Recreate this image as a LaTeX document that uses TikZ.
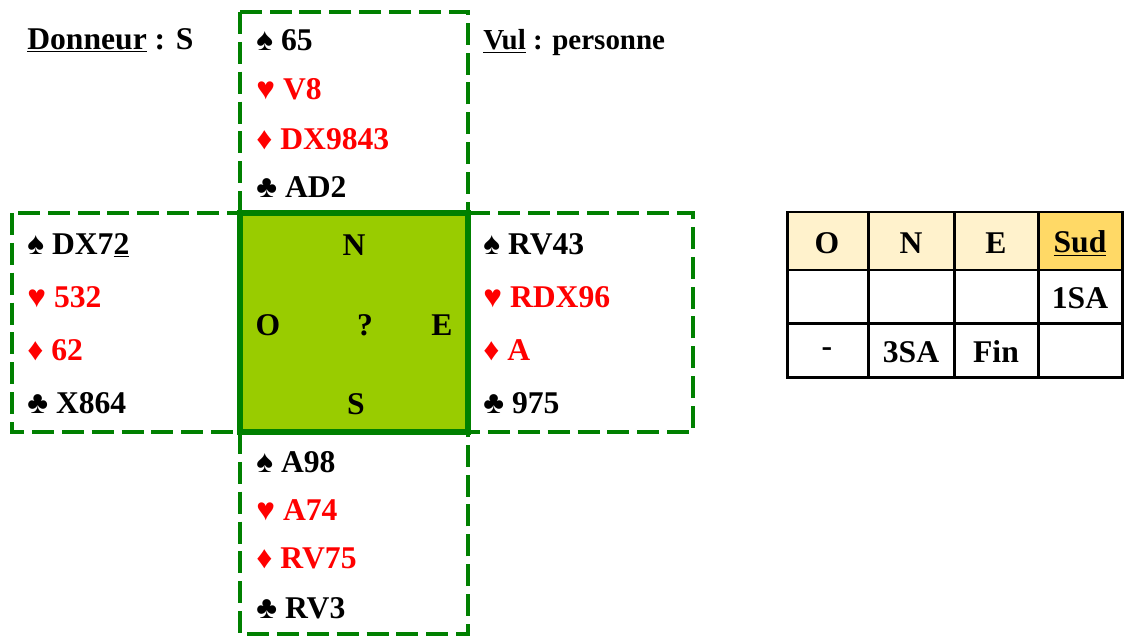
\documentclass[tikz,border=0pt]{standalone}
\usepackage{fontspec}
\setmainfont{Liberation Serif}
\definecolor{bidgreen}{HTML}{008000}
\definecolor{tablegreen}{HTML}{99CC00}
\definecolor{headcell}{HTML}{FFF2CC}
\definecolor{dealercell}{HTML}{FFD966}
\definecolor{redsuit}{HTML}{FF0000}
\tikzset{
	hand/.style={draw=bidgreen,line width=2.8pt,dash pattern=on 12.5pt off 4.5pt},
	cardline/.style={anchor=base west,inner sep=0pt,font=\fontsize{18}{21}\selectfont\bfseries},
	redline/.style={cardline,text=redsuit},
	seat/.style={inner sep=0pt,font=\fontsize{18}{21}\selectfont\bfseries},
	bidcell/.style={draw=black,line width=1.7pt}
}
\begin{document}
\begin{tikzpicture}[x=0.02cm,y=-0.02cm]
	\useasboundingbox (0,0) rectangle (1125,636);
	% les quatre mains
	\draw[hand] (240,12) rectangle (468,213);
	\draw[hand] (12,213) rectangle (240,432);
	\draw[hand] (468,213) rectangle (693,432);
	\draw[hand] (240,432) rectangle (468,634);
	% la table
	\draw[draw=bidgreen,line width=3.4pt,fill=tablegreen] (240,213) rectangle (468,432);
	\node[seat] (tN) at (354,245) {N};
	\node[seat] (tO) at (268,325) {O};
	\node[seat] (tQ) at (365,325) {?};
	\node[seat] (tE) at (442,325) {E};
	\node[seat] (tS) at (356,404) {S};
	% entete
	\node[cardline] (donneur) at (27,49) {\underline{Donneur} : S};
	\node[cardline,font=\fontsize{16.5}{20}\selectfont\bfseries] (vul) at (483,49) {\underline{Vul} : personne};
	% Nord
	\node[cardline] (nP) at (256,50) {♠ 65};
	\node[redline] (nC) at (256,99) {♥ V8};
	\node[redline] (nK) at (256,149) {♦ DX9843};
	\node[cardline] (nT) at (256,197) {♣ AD2};
	% Ouest
	\node[cardline] (oP) at (27,254) {♠ DX7\underline{2}};
	\node[redline] (oC) at (27,307) {♥ 532};
	\node[redline] (oK) at (27,360) {♦ 62};
	\node[cardline] (oT) at (27,413) {♣ X864};
	% Est
	\node[cardline] (eP) at (483,254) {♠ RV43};
	\node[redline] (eC) at (483,307) {♥ RDX96};
	\node[redline] (eK) at (483,360) {♦ A};
	\node[cardline] (eT) at (483,413) {♣ 975};
	% Sud
	\node[cardline] (sP) at (256,472) {♠ A98};
	\node[redline] (sC) at (256,520) {♥ A74};
	\node[redline] (sK) at (256,568) {♦ RV75};
	\node[cardline] (sT) at (256,618) {♣ RV3};
	% les encheres
	\fill[headcell] (787,212) rectangle (1038,270);
	\fill[dealercell] (1038,212) rectangle (1122,270);
	\draw[bidcell] (787,212) rectangle (1122,377);
	\draw[bidcell] (787,270) -- (1122,270);
	\draw[bidcell] (787,323) -- (1122,323);
	\draw[bidcell] (868,212) -- (868,377);
	\draw[bidcell] (954,212) -- (954,377);
	\draw[bidcell] (1038,212) -- (1038,377);
	\node[seat] (hO) at (827,243) {O};
	\node[seat] (hN) at (911,243) {N};
	\node[seat] (hE) at (996,243) {E};
	\node[seat] (hS) at (1080,243) {\underline{Sud}};
	\node[seat] (b1) at (1080,298) {1SA};
	\node[seat] (b2) at (827,352) {-};
	\node[seat] (b3) at (911,352) {3SA};
	\node[seat] (b4) at (996,352) {Fin};
\end{tikzpicture}
\end{document}
